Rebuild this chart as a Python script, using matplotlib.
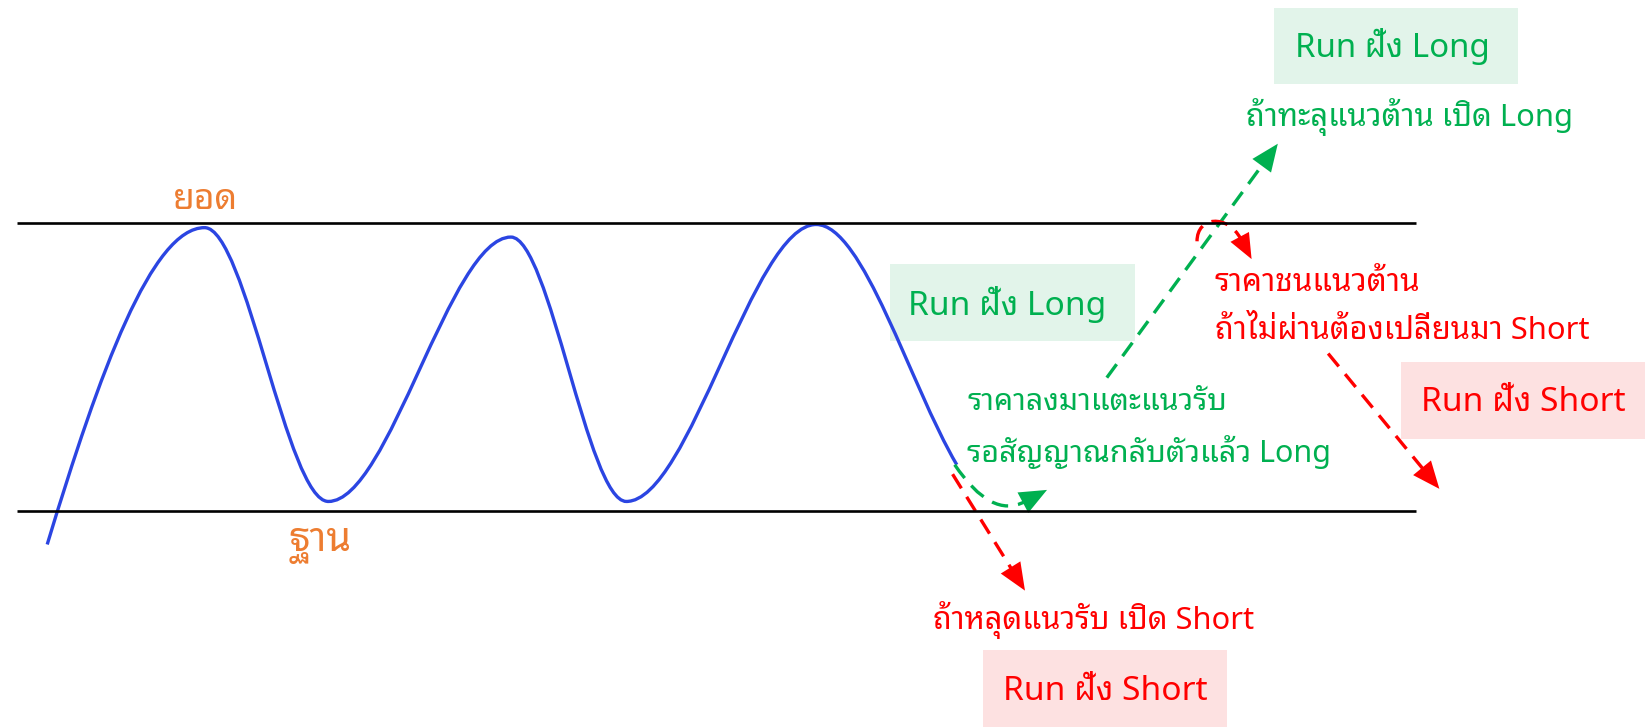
import numpy as np
import matplotlib
matplotlib.use("Agg")
import matplotlib.pyplot as plt
from matplotlib.path import Path
from matplotlib.patches import PathPatch, Polygon, Rectangle

# ---------------- data ----------------
wave_x = [45, 195, 313, 487, 597, 778, 912]
wave_y = [519, 217, 478, 226, 478, 214, 443]
wave_slope_start = -3.3
wave_slope_end = 1.7

resistance_y = 213
support_y = 487
level_x = [16, 1350]

label_top = "ยอด"
label_base = "ฐาน"
run_long = "Run ฝั่ง Long"
run_short = "Run ฝั่ง Short"
txt_break_up = "ถ้าทะลุแนวต้าน เปิด Long"
txt_touch_support = ["ราคาลงมาแตะแนวรับ", "รอสัญญาณกลับตัวแล้ว Long"]
txt_hit_resist = ["ราคาชนแนวต้าน", "ถ้าไม่ผ่านต้องเปลี่ยนมา Short"]
txt_break_down = "ถ้าหลุดแนวรับ เปิด Short"

fam = ["Noto Sans Thai Looped", "Noto Sans Thai", "Noto Sans", "DejaVu Sans"]

GREEN = "#00B050"
RED = "#FF0000"
ORANGE = "#ED7D31"
BLUE = "#2B45E2"
GREEN_BOX = "#E2F4EA"
RED_BOX = "#FDE1E1"

W, H = 1568, 693
fig = plt.figure(figsize=(16.45, 7.27), dpi=100)
ax = fig.add_axes([0, 0, 1, 1])
ax.set_xlim(0, W)
ax.set_ylim(H, 0)
ax.axis("off")

# levels
ax.plot(level_x, [resistance_y] * 2, color="black", lw=1.9, solid_capstyle="butt")
ax.plot(level_x, [support_y] * 2, color="black", lw=1.9, solid_capstyle="butt")

# blue wave as cubic bezier through turning points
slopes = [wave_slope_start] + [0] * (len(wave_x) - 2) + [wave_slope_end]
verts = [(wave_x[0], wave_y[0])]
codes = [Path.MOVETO]
for i in range(len(wave_x) - 1):
    x0, y0, x1, y1 = wave_x[i], wave_y[i], wave_x[i + 1], wave_y[i + 1]
    dx = x1 - x0
    verts += [(x0 + dx / 3, y0 + slopes[i] * dx / 3),
              (x1 - dx / 3, y1 - slopes[i + 1] * dx / 3),
              (x1, y1)]
    codes += [Path.CURVE4] * 3
ax.add_patch(PathPatch(Path(verts, codes), fill=False, edgecolor=BLUE, lw=2.4))


def arrow(points, color, head_len=26, head_w=22):
    pts = np.array(points, float)
    tip = pts[-1]
    d = pts[-1] - pts[-2]
    d = d / np.hypot(*d)
    base = tip - d * head_len
    n = np.array([-d[1], d[0]])
    line_pts = pts.copy()
    line_pts[-1] = base + d * 2
    if len(pts) == 2:
        cds = [Path.MOVETO, Path.LINETO]
    elif len(pts) == 3:
        cds = [Path.MOVETO, Path.CURVE3, Path.CURVE3]
    else:
        cds = [Path.MOVETO, Path.CURVE4, Path.CURVE4, Path.CURVE4]
    ax.add_patch(PathPatch(Path(line_pts, cds), fill=False, edgecolor=color,
                           lw=2.4, linestyle=(0, (5, 3))))
    ax.add_patch(Polygon([tip, base + n * head_w / 2, base - n * head_w / 2],
                         closed=True, facecolor=color, edgecolor="none"))


arrow([(910, 443), (945, 495), (998, 467)], GREEN)
arrow([(1055, 360), (1218, 137)], GREEN)
arrow([(908, 452), (977, 563)], RED)
arrow([(1141, 230), (1141, 206), (1170, 204), (1193, 247)], RED, head_len=24, head_w=20)
arrow([(1266, 337), (1372, 466)], RED)

# boxes
for (x0, y0, x1, y1, c) in [(1214, 8, 1447, 80, GREEN_BOX),
                            (848, 252, 1082, 325, GREEN_BOX),
                            (1335, 345, 1568, 418, RED_BOX),
                            (937, 620, 1170, 693, RED_BOX)]:
    ax.add_patch(Rectangle((x0, y0), x1 - x0, y1 - y0, facecolor=c, edgecolor="none", zorder=0))

renderer = fig.canvas.get_renderer()
scale_px = 1645 / W  # pixels per data unit


def t(x, y, s, c, width, ha="left"):
    txt = ax.text(x, y, s, color=c, fontsize=20, ha=ha, va="baseline", family=fam)
    wpx = txt.get_window_extent(renderer).width
    txt.set_fontsize(20 * width * scale_px / wpx)


t(1327, 54, run_long, GREEN, 186, "center")
t(1344, 120, txt_break_up, GREEN, 312, "center")
t(960, 300, run_long, GREEN, 189, "center")
t(922, 391, txt_touch_support[0], GREEN, 248)
t(922, 440, txt_touch_support[1], GREEN, 347)
t(1158, 277, txt_hit_resist[0], RED, 196)
t(1158, 323, txt_hit_resist[1], RED, 357)
t(1452, 392, run_short, RED, 195, "center")
t(1042, 600, txt_break_down, RED, 307, "center")
t(1054, 667, run_short, RED, 195, "center")
t(196, 199, label_top, ORANGE, 62, "center")
t(305, 525, label_base, ORANGE, 60, "center")

fig.savefig("out.png", dpi=100)
